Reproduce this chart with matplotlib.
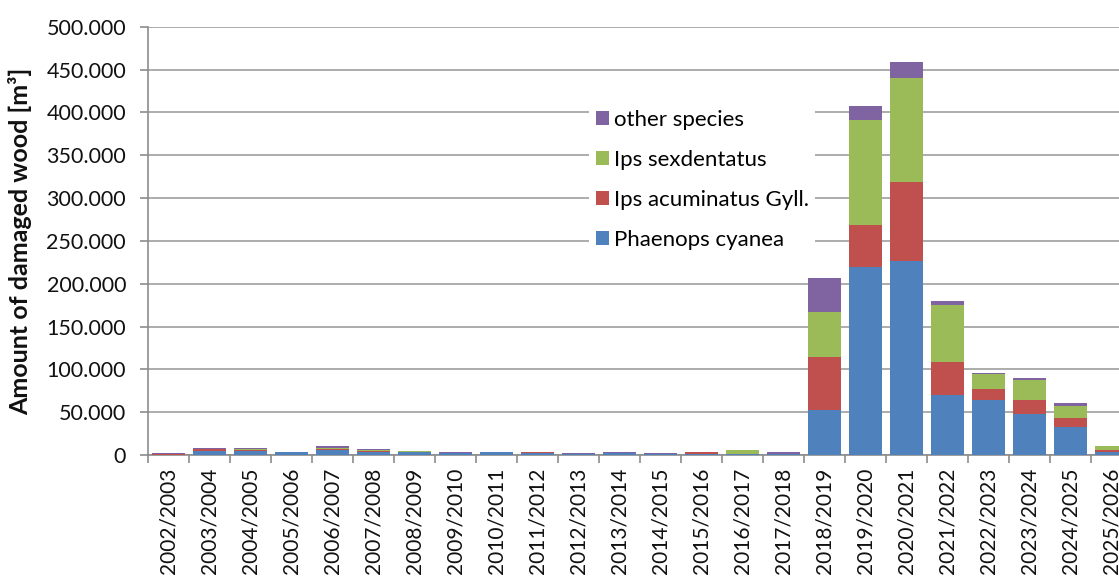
import numpy as np
import matplotlib
matplotlib.use("Agg")
import matplotlib.pyplot as plt
from matplotlib.ticker import FuncFormatter, FixedLocator

seasons = ["2002/2003", "2003/2004", "2004/2005", "2005/2006", "2006/2007",
           "2007/2008", "2008/2009", "2009/2010", "2010/2011", "2011/2012",
           "2012/2013", "2013/2014", "2014/2015", "2015/2016", "2016/2017",
           "2017/2018", "2018/2019", "2019/2020", "2020/2021", "2021/2022",
           "2022/2023", "2023/2024", "2024/2025", "2025/2026"]

# m3 of damaged wood per season
phaenops = [500, 5000, 5000, 3000, 6000, 3500, 4000, 2500, 3000, 2000, 1000, 2500,
            1500, 1000, 1500, 1000, 52000, 219000, 227000, 70000, 64000, 48000, 33000, 4000]
ips_acum = [300, 1500, 500, 0, 1000, 1000, 0, 0, 500, 1000, 500, 0,
            0, 2500, 0, 0, 62000, 49000, 92000, 39000, 13000, 16000, 10000, 2000]
ips_sex = [300, 1000, 1500, 500, 1000, 1000, 500, 0, 0, 0, 0, 0,
           0, 0, 4500, 0, 53000, 123000, 121000, 66000, 17000, 23000, 14000, 4000]
other = [1000, 500, 1500, 500, 2500, 1000, 500, 500, 500, 500, 1000, 500,
         500, 300, 300, 3000, 40000, 16000, 19000, 5000, 2000, 3000, 4000, 500]

series = [("Phaenops cyanea", phaenops, "#4F81BD"),
          ("Ips acuminatus Gyll.", ips_acum, "#C0504D"),
          ("Ips sexdentatus", ips_sex, "#9BBB59"),
          ("other species", other, "#8064A2")]

plt.rcParams['font.family'] = ['Lato', 'DejaVu Sans']

fig = plt.figure(figsize=(11.19, 5.76), dpi=100)
ax = fig.add_axes([148.3 / 1119, 121 / 576, 983.3 / 1119, 428.3 / 576])

x = np.arange(len(seasons))
bottom = np.zeros(len(seasons))
handles = []
for name, vals, col in series:
    vals = np.array(vals, dtype=float)
    b = ax.bar(x, vals, width=0.8, bottom=bottom, color=col,
               linewidth=0, label=name, zorder=3)
    handles.append(b)
    bottom += vals

ax.set_xlim(-0.5, len(seasons) - 0.5)
ax.set_ylim(0, 500000)
ax.set_yticks(np.arange(0, 500001, 50000))
ax.yaxis.set_major_formatter(FuncFormatter(
    lambda v, p: "0" if v == 0 else f"{int(v):,}".replace(",", ".")))
ax.yaxis.grid(True, color="#a6a6a6", linewidth=1.3, zorder=0)
ax.set_axisbelow(True)

ax.set_xticks(x)
ax.set_xticklabels(seasons, rotation=90, fontsize=15, color="#111111")
ax.xaxis.set_minor_locator(FixedLocator(np.arange(-0.5, len(seasons), 1)))
ax.tick_params(axis="x", which="major", length=0, pad=9)
ax.tick_params(axis="x", which="minor", length=6, color="#8c8c8c", width=1.2)
ax.tick_params(axis="y", length=6, color="#8c8c8c", width=1.2,
               labelsize=15.5, labelcolor="#111111", pad=10)

for s in ["top", "right"]:
    ax.spines[s].set_visible(False)
for s in ["left", "bottom"]:
    ax.spines[s].set_color("#8c8c8c")
    ax.spines[s].set_linewidth(1.2)

ax.set_ylabel("Amount of damaged wood [m³]", fontsize=18, fontweight="bold",
              color="#111111", labelpad=10)

leg = ax.legend(handles[::-1], [s[0] for s in series][::-1],
                loc="upper left", bbox_to_anchor=(0.437, 0.848),
                fontsize=16, frameon=True, facecolor="white", edgecolor="none",
                framealpha=1, handlelength=0.6, handleheight=0.6,
                handletextpad=0.2, labelspacing=0.9, borderpad=0.3)
leg.set_zorder(4)

fig.savefig("out.png", dpi=100)
